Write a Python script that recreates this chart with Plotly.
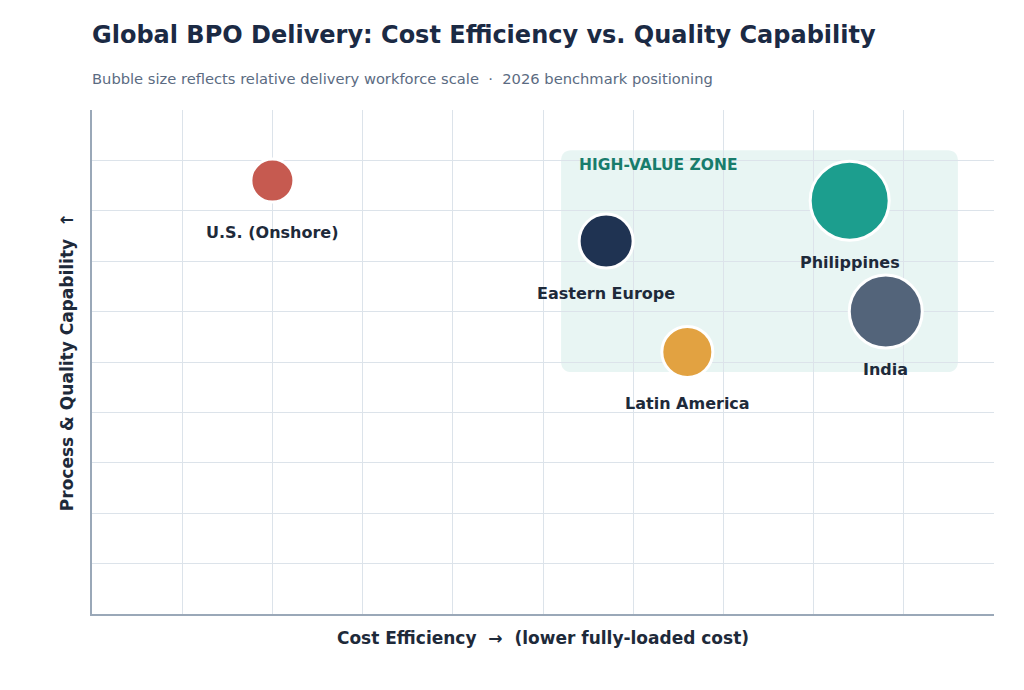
import plotly.graph_objects as go

# ---- data ----
regions = ["U.S. (Onshore)", "Eastern Europe", "Philippines", "India", "Latin America"]
cost_efficiency = [2.0, 5.7, 8.4, 8.8, 6.6]
quality_capability = [8.6, 7.4, 8.2, 6.0, 5.2]
workforce_scale = [43, 54, 79, 73, 51]
colors = ["#C65A50", "#1F3352", "#1C9E8E", "#53647A", "#E2A241"]
label_offsets = [52, 52, 62, 58, 52]  # px below bubble center

zone_x = [5.2, 9.6]
zone_y = [4.8, 9.2]

FONT = "DejaVu Sans"
DARK = "#1E2A3A"

fig = go.Figure()

fig.add_trace(go.Scatter(
    x=cost_efficiency, y=quality_capability, mode="markers",
    marker=dict(size=workforce_scale, sizemode="diameter", color=colors,
                opacity=1, line=dict(color="white", width=3)),
    hoverinfo="text", text=regions, showlegend=False,
))

for name, xv, yv, off in zip(regions, cost_efficiency, quality_capability, label_offsets):
    fig.add_annotation(x=xv, y=yv, xref="x", yref="y", text=f"<b>{name}</b>",
                       showarrow=False, yshift=-off,
                       font=dict(family=FONT, size=16, color=DARK))

# rounded zone rectangle
x0, x1 = zone_x
y0, y1 = zone_y
rx, ry = 0.12, 0.22
path = (f"M {x0+rx},{y0} L {x1-rx},{y0} Q {x1},{y0} {x1},{y0+ry} "
        f"L {x1},{y1-ry} Q {x1},{y1} {x1-rx},{y1} "
        f"L {x0+rx},{y1} Q {x0},{y1} {x0},{y1-ry} "
        f"L {x0},{y0+ry} Q {x0},{y0} {x0+rx},{y0} Z")
fig.add_shape(type="path", path=path, xref="x", yref="y",
              fillcolor="rgba(28,158,142,0.10)", line=dict(width=0), layer="below")
fig.add_annotation(x=x0, y=y1 - 0.3, xref="x", yref="y", text="<b>HIGH-VALUE ZONE</b>",
                   showarrow=False, xanchor="left", yanchor="middle", xshift=16,
                   font=dict(family=FONT, size=15.5, color="#187C6C"))

fig.update_layout(
    width=1024, height=690,
    margin=dict(l=92, r=30, t=110, b=76),
    paper_bgcolor="white", plot_bgcolor="white",
    font=dict(family=FONT, color=DARK),
    title=dict(text="<b>Global BPO Delivery: Cost Efficiency vs. Quality Capability</b>",
               x=92/1024, xanchor="left", y=1 - 35/690, yanchor="middle",
               font=dict(family=FONT, size=24, color="#1B2A44")),
    xaxis=dict(range=[0, 10], tickvals=list(range(1, 10)), showticklabels=False,
               showgrid=True, gridcolor="#DCE3EA", gridwidth=1, zeroline=False,
               showline=True, linecolor="#9AA8B8", linewidth=1.5, ticks="",
               title=dict(text="<b>Cost Efficiency  →  (lower fully-loaded cost)</b>",
                          standoff=17, font=dict(family=FONT, size=17, color=DARK))),
    yaxis=dict(range=[0, 10], tickvals=list(range(1, 10)), showticklabels=False,
               showgrid=True, gridcolor="#DCE3EA", gridwidth=1, zeroline=False,
               showline=True, linecolor="#9AA8B8", linewidth=1.5, ticks="",
               title=dict(text="<b>Process & Quality Capability  ↑</b>",
                          standoff=12, font=dict(family=FONT, size=17, color=DARK))),
)

fig.add_annotation(xref="paper", yref="paper", x=0, y=1, xanchor="left", yanchor="middle",
                   yshift=(110 - 78), xshift=-2, showarrow=False,
                   text="Bubble size reflects relative delivery workforce scale  ·  2026 benchmark positioning",
                   font=dict(family=FONT, size=14.7, color="#5B6B82"))

fig.write_html("out.html")
